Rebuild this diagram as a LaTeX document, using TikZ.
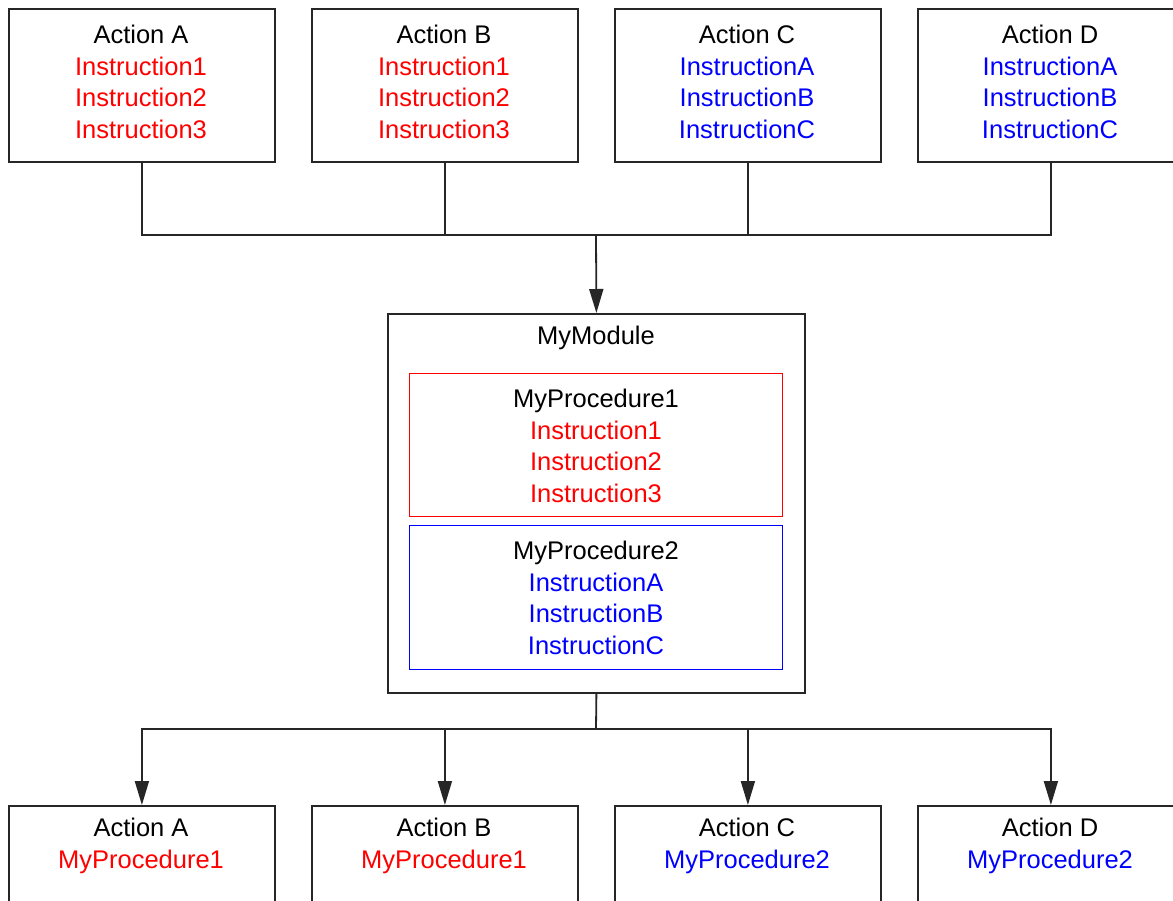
\documentclass[tikz,border=0pt]{standalone}
\usepackage{fontspec}
\setmainfont{Liberation Sans}
\usetikzlibrary{arrows.meta,calc}
\definecolor{ired}{RGB}{255,0,0}
\definecolor{iblue}{RGB}{0,0,255}
\tikzset{
  box/.style={draw=black!85, line width=1.8pt, rectangle, inner sep=0pt, anchor=north west},
  txt/.style={align=center, inner sep=0pt, font=\fontsize{25.5}{31.6}\selectfont},
  wire/.style={draw=black!85, line width=1.8pt},
  arr/.style={wire, -{Triangle[length=24pt,width=14pt]}},
}
\begin{document}
\begin{tikzpicture}[x=1pt,y=-1pt]
\clip (0,0) rectangle (1173,900);
\fill[white] (0,0) rectangle (1173,900);
% top boxes
\node[box, minimum width=266pt, minimum height=153pt] (ta) at (8,8) {};
\node[box, minimum width=266pt, minimum height=153pt] (tb) at (311,8) {};
\node[box, minimum width=266pt, minimum height=153pt] (tc) at (614,8) {};
\node[box, minimum width=266pt, minimum height=153pt] (td) at (917,8) {};
\node[txt] (tat) at (141,82) {Action A\\\textcolor{ired}{Instruction1}\\\textcolor{ired}{Instruction2}\\\textcolor{ired}{Instruction3}};
\node[txt] (tbt) at (444,82) {Action B\\\textcolor{ired}{Instruction1}\\\textcolor{ired}{Instruction2}\\\textcolor{ired}{Instruction3}};
\node[txt] (tct) at (747,82) {Action C\\\textcolor{iblue}{InstructionA}\\\textcolor{iblue}{InstructionB}\\\textcolor{iblue}{InstructionC}};
\node[txt] (tdt) at (1050,82) {Action D\\\textcolor{iblue}{InstructionA}\\\textcolor{iblue}{InstructionB}\\\textcolor{iblue}{InstructionC}};
% module
\node[box, minimum width=417pt, minimum height=379pt] (mod) at (387,313) {};
\node[txt] (modt) at (596,338) {MyModule};
\node[box, draw=ired, line width=1.4pt, minimum width=373pt, minimum height=143pt] (p1) at (409,373) {};
\node[txt] (p1t) at (596,446) {MyProcedure1\\\textcolor{ired}{Instruction1}\\\textcolor{ired}{Instruction2}\\\textcolor{ired}{Instruction3}};
\node[box, draw=iblue, line width=1.4pt, minimum width=373pt, minimum height=144pt] (p2) at (409,525) {};
\node[txt] (p2t) at (596,598) {MyProcedure2\\\textcolor{iblue}{InstructionA}\\\textcolor{iblue}{InstructionB}\\\textcolor{iblue}{InstructionC}};
% bottom boxes
\node[box, minimum width=266pt, minimum height=153pt] (ba) at (8,805) {};
\node[box, minimum width=266pt, minimum height=153pt] (bb) at (311,805) {};
\node[box, minimum width=266pt, minimum height=153pt] (bc) at (614,805) {};
\node[box, minimum width=266pt, minimum height=153pt] (bd) at (917,805) {};
\node[txt] (bat) at (141,846) {Action A\\\textcolor{ired}{MyProcedure1}};
\node[txt] (bbt) at (444,846) {Action B\\\textcolor{ired}{MyProcedure1}};
\node[txt] (bct) at (747,846) {Action C\\\textcolor{iblue}{MyProcedure2}};
\node[txt] (bdt) at (1050,846) {Action D\\\textcolor{iblue}{MyProcedure2}};
% connectors top
\coordinate (jt) at (596,235);
\draw[wire] (ta.south) |- (jt);
\draw[wire] (tb.south) |- (jt);
\draw[wire] (tc.south) |- (jt);
\draw[wire] (td.south) |- (jt);
\draw[arr] (jt) -- (mod.north);
% connectors bottom
\coordinate (jb) at (596,729);
\draw[wire] (mod.south) -- (jb);
\draw[arr] (jb) -| (ba.north);
\draw[arr] (jb) -| (bb.north);
\draw[arr] (jb) -| (bc.north);
\draw[arr] (jb) -| (bd.north);
\end{tikzpicture}
\end{document}
